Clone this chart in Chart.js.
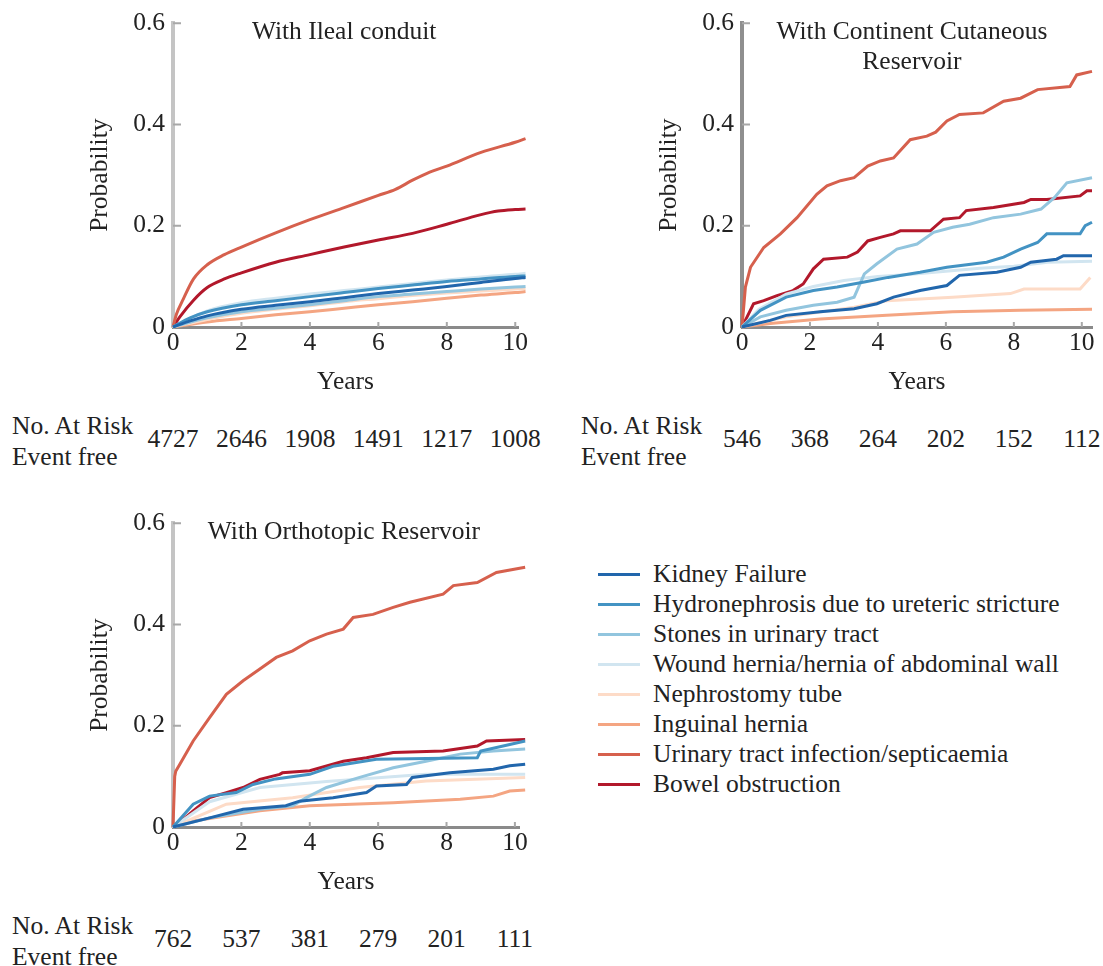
<!DOCTYPE html>
<html>
<head>
<meta charset="utf-8">
<script src="https://cdn.jsdelivr.net/npm/chart.js@4.4.0/dist/chart.umd.min.js"></script>
<style>
    body { margin: 0; background: #fff; width: 1103px; height: 966px; position: relative; overflow: hidden;
           font-family: 'Liberation Serif', 'Times New Roman', serif; color: #222; }
    .panel { position: absolute; }
    .txt { position: absolute; font-size: 25.5px; line-height: 30px; white-space: nowrap; }
    .num { transform: translateX(-50%); }
    .swatch { position: absolute; width: 42px; height: 3px; }
</style>
</head>
<body>
<div class="panel" style="left:0;top:0"><canvas id="ileal" width="545" height="400"></canvas></div>
<div class="panel" style="left:569px;top:0"><canvas id="cutaneous" width="534" height="400"></canvas></div>
<div class="panel" style="left:0;top:500px"><canvas id="orthotopic" width="545" height="400"></canvas></div>
<div id="extras"></div>

<script>
// outcomes, in legend order
const outcomes = [
    'Kidney Failure',
    'Hydronephrosis due to ureteric stricture',
    'Stones in urinary tract',
    'Wound hernia/hernia of abdominal wall',
    'Nephrostomy tube',
    'Inguinal hernia',
    'Urinary tract infection/septicaemia',
    'Bowel obstruction'
];
const colours = ['#2166ac', '#4393c3', '#92c5de', '#d1e5f0', '#fddbc7', '#f4a582', '#d6604d', '#b2182b'];

const xTicks = [0, 2, 4, 6, 8, 10];
const yTicks = [0, 0.2, 0.4, 0.6];

const ilealAtRisk = [4727, 2646, 1908, 1491, 1217, 1008];
const cutaneousAtRisk = [546, 368, 264, 202, 152, 112];
const orthotopicAtRisk = [762, 537, 381, 279, 201, 111];

// [years, probability]
// With Ileal conduit
const ilealKidney = [[0,0],[0.5,0.012],[1,0.022],[2,0.035],[3,0.043],[4,0.05],[5,0.058],[6,0.066],[7,0.073],[8,0.08],[9,0.088],[10,0.096],[10.3,0.098]];
const ilealHydro = [[0,0],[0.5,0.018],[1,0.03],[2,0.044],[3,0.052],[4,0.06],[5,0.068],[6,0.076],[7,0.083],[8,0.09],[9,0.095],[10,0.1],[10.3,0.101]];
const ilealStones = [[0,0],[1,0.018],[2,0.03],[3,0.037],[4,0.044],[5,0.052],[6,0.06],[7,0.065],[8,0.07],[9,0.075],[10,0.079],[10.3,0.08]];
const ilealWound = [[0,0],[1,0.032],[2,0.048],[3,0.057],[4,0.065],[5,0.072],[6,0.079],[7,0.086],[8,0.093],[9,0.099],[10,0.104],[10.3,0.106]];
const ilealNephro = [[0,0],[1,0.015],[2,0.027],[3,0.035],[4,0.042],[5,0.05],[6,0.056],[7,0.062],[8,0.067],[9,0.071],[10,0.075],[10.3,0.076]];
const ilealInguinal = [[0,0],[1,0.01],[2,0.017],[3,0.024],[4,0.03],[5,0.037],[6,0.044],[7,0.05],[8,0.057],[9,0.063],[10,0.068],[10.3,0.07]];
const ilealUti = [[0,0],[0.1,0.025],[0.3,0.055],[0.6,0.095],[1,0.123],[1.5,0.143],[2,0.158],[3,0.186],[4,0.212],[5,0.236],[6,0.26],[6.5,0.272],[7,0.29],[7.5,0.306],[8,0.318],[9,0.345],[10,0.365],[10.3,0.372]];
const ilealBowel = [[0,0],[0.2,0.02],[0.6,0.053],[1,0.078],[1.5,0.095],[2,0.107],[3,0.128],[4,0.143],[5,0.158],[6,0.172],[7,0.185],[8,0.203],[9,0.222],[9.5,0.229],[10,0.232],[10.3,0.233]];

// With Continent Cutaneous Reservoir
const cutKidney = [[0,0],[0.83,0.013],[1.3,0.023],[2.3,0.03],[3.3,0.036],[3.97,0.046],[4.46,0.059],[5.24,0.072],[6.03,0.082],[6.4,0.102],[7.5,0.108],[8.2,0.118],[8.5,0.128],[9.26,0.134],[9.46,0.141],[10.3,0.141]];
const cutHydro = [[0,0],[0.54,0.033],[1.3,0.059],[2.1,0.072],[2.8,0.079],[3.6,0.089],[4.3,0.098],[5.24,0.108],[6.03,0.118],[7.2,0.128],[7.7,0.138],[8.2,0.154],[8.7,0.167],[8.97,0.184],[9.95,0.184],[10.1,0.2],[10.3,0.207]];
const cutStones = [[0,0],[0.54,0.02],[1.3,0.033],[2.1,0.043],[2.8,0.049],[3.3,0.059],[3.6,0.105],[3.97,0.125],[4.56,0.154],[5.15,0.164],[5.64,0.187],[6.2,0.197],[6.7,0.203],[7.4,0.216],[8.2,0.223],[8.8,0.233],[9.2,0.256],[9.56,0.285],[10.3,0.295]];
const cutWound = [[0,0],[0.5,0.035],[1.3,0.065],[2.1,0.08],[3,0.092],[4,0.1],[5,0.104],[6,0.11],[7,0.116],[8,0.12],[9,0.128],[10.3,0.13]];
const cutNephro = [[0,0],[1.3,0.02],[3.3,0.039],[4.26,0.052],[6.2,0.059],[7.9,0.066],[8.3,0.075],[9.95,0.075],[10.25,0.098]];
const cutInguinal = [[0,0],[0.83,0.007],[2.3,0.016],[4.26,0.023],[6.2,0.03],[8.2,0.033],[10.3,0.035]];
const cutUti = [[0,0],[0.1,0.079],[0.25,0.118],[0.64,0.157],[1.13,0.184],[1.62,0.216],[2.2,0.262],[2.5,0.279],[2.9,0.289],[3.3,0.295],[3.7,0.318],[4.07,0.328],[4.46,0.334],[4.95,0.37],[5.44,0.377],[5.7,0.385],[6.03,0.407],[6.4,0.42],[7.1,0.423],[7.7,0.446],[8.2,0.452],[8.7,0.469],[9.65,0.475],[9.85,0.498],[10.3,0.505]];
const cutBowel = [[0,0],[0.15,0.02],[0.34,0.046],[0.64,0.052],[1.03,0.062],[1.5,0.072],[1.8,0.085],[2.1,0.115],[2.4,0.134],[3.1,0.138],[3.4,0.148],[3.7,0.17],[4.07,0.177],[4.46,0.184],[4.66,0.19],[5.54,0.19],[5.93,0.213],[6.4,0.216],[6.6,0.23],[7.4,0.236],[8.3,0.246],[8.5,0.252],[8.97,0.252],[9.95,0.259],[10.15,0.269],[10.3,0.269]];

// With Orthotopic Reservoir
const orthoKidney = [[0,0],[1.07,0.018],[2.05,0.035],[3.3,0.042],[3.7,0.051],[4.68,0.058],[5.66,0.068],[5.95,0.081],[6.83,0.084],[7,0.098],[8.1,0.107],[9.37,0.114],[9.85,0.121],[10.3,0.124]];
const orthoHydro = [[0,0],[0.59,0.045],[1.07,0.061],[1.85,0.068],[2.34,0.084],[3,0.095],[4,0.104],[4.68,0.12],[5.95,0.134],[8.9,0.137],[9,0.15],[9.85,0.163],[10.3,0.17]];
const orthoStones = [[0,0],[1.07,0.018],[2.54,0.035],[3.5,0.042],[3.9,0.058],[4.49,0.078],[5.46,0.098],[6.44,0.117],[7.4,0.13],[8.4,0.144],[9.37,0.15],[10.3,0.154]];
const orthoWound = [[0,0],[1.07,0.05],[2.54,0.078],[4.49,0.09],[7.4,0.104],[10.3,0.104]];
const orthoNephro = [[0,0],[1.56,0.045],[3.5,0.058],[5.46,0.078],[7.4,0.091],[10.3,0.098]];
const orthoInguinal = [[0,0],[0.59,0.012],[2.54,0.032],[4,0.042],[6.44,0.048],[8.4,0.055],[9.37,0.061],[9.85,0.071],[10.3,0.073]];
const orthoUti = [[0,0],[0.05,0.1],[0.08,0.11],[0.2,0.124],[0.59,0.17],[1.07,0.216],[1.56,0.262],[2.05,0.289],[2.54,0.312],[3.02,0.335],[3.5,0.348],[4,0.368],[4.49,0.381],[4.98,0.391],[5.27,0.414],[5.85,0.42],[6.44,0.434],[6.93,0.444],[7.9,0.46],[8.2,0.477],[8.9,0.483],[9.46,0.503],[10.3,0.513]];
const orthoBowel = [[0,0],[0.3,0.015],[0.59,0.032],[1.07,0.058],[1.56,0.068],[2.05,0.078],[2.54,0.094],[3.12,0.104],[3.2,0.107],[4,0.111],[4.98,0.13],[5.66,0.137],[6.44,0.147],[7.9,0.15],[8.9,0.16],[9.17,0.17],[10.3,0.173]];

const font = { family: "'Liberation Serif', 'Times New Roman', serif", size: 25.5 };
const textColour = '#222';

// title written inside the plot area, centred over 0..10 years
const panelTitle = {
    id: 'panelTitle',
    afterDraw(chart, args, opts) {
        const { ctx, chartArea } = chart;
        const cx = chart.scales.x.getPixelForValue(5);
        ctx.save();
        ctx.font = `${font.size}px ${font.family}`;
        ctx.fillStyle = textColour;
        ctx.textAlign = 'center';
        ctx.textBaseline = 'middle';
        opts.lines.forEach((t, i) => ctx.fillText(t, cx, chartArea.top + 9 + i * 30));
        ctx.restore();
    }
};

// small tick marks pointing into the plot
const innerTicks = {
    id: 'innerTicks',
    afterDraw(chart) {
        const { ctx, chartArea, scales } = chart;
        ctx.save();
        ctx.strokeStyle = '#a8a8a8';
        ctx.lineWidth = 2;
        ctx.beginPath();
        yTicks.slice(1).forEach(v => {
            const y = scales.y.getPixelForValue(v);
            ctx.moveTo(chartArea.left, y);
            ctx.lineTo(chartArea.left + 8, y);
        });
        xTicks.slice(1).forEach(v => {
            const x = scales.x.getPixelForValue(v);
            ctx.moveTo(x, chartArea.bottom);
            ctx.lineTo(x, chartArea.bottom - 5);
        });
        ctx.stroke();
        ctx.restore();
    }
};

// xMax: where the drawn axis stops; the curves run on a little past it
function makePanel(canvasId, titleLines, series, smooth, yAxisColour, xMax, rightPad) {
    const ctx = document.getElementById(canvasId).getContext('2d');
    return new Chart(ctx, {
        type: 'line',
        data: {
            datasets: series.map((pts, i) => ({
                label: outcomes[i],
                data: pts.map(([x, y]) => ({ x, y })),
                borderColor: colours[i],
                backgroundColor: colours[i],
                borderWidth: 3,
                pointRadius: 0,
                fill: false,
                clip: false,
                cubicInterpolationMode: smooth ? 'monotone' : 'default',
                tension: 0
            }))
        },
        options: {
            responsive: false,
            animation: false,
            events: [],
            layout: { padding: { left: 80, top: 22, right: rightPad, bottom: 0 } },
            plugins: {
                legend: { display: false },
                tooltip: { enabled: false },
                panelTitle: { lines: titleLines }
            },
            scales: {
                x: {
                    type: 'linear',
                    min: 0,
                    max: xMax,
                    afterBuildTicks: s => { s.ticks = xTicks.map(v => ({ value: v })); },
                    afterFit: s => { s.height = 73; },
                    ticks: { font, color: textColour, padding: 1, maxRotation: 0, autoSkip: false },
                    grid: { display: false, drawTicks: false },
                    border: { display: true, color: '#8a8a8a', width: 3 },
                    title: { display: true, text: 'Years', font, color: textColour, padding: { top: 4, bottom: 2 } }
                },
                y: {
                    type: 'linear',
                    min: 0,
                    max: 0.6,
                    afterBuildTicks: s => { s.ticks = yTicks.map(v => ({ value: v })); },
                    afterFit: s => { s.width = 93; },
                    ticks: {
                        font, color: textColour, padding: 8,
                        callback: v => v === 0 ? '0' : v.toFixed(1)
                    },
                    grid: { display: false, drawTicks: false },
                    border: { display: true, color: yAxisColour, width: 4 },
                    title: { display: true, text: 'Probability', font, color: textColour, padding: { top: 5, bottom: 0 } }
                }
            }
        },
        plugins: [panelTitle, innerTicks]
    });
}

const ilealChart = makePanel('ileal', ['With Ileal conduit'],
    [ilealKidney, ilealHydro, ilealStones, ilealWound, ilealNephro, ilealInguinal, ilealUti, ilealBowel],
    true, '#c4c4c4', 10.08, 27);
const cutChart = makePanel('cutaneous', ['With Continent Cutaneous', 'Reservoir'],
    [cutKidney, cutHydro, cutStones, cutWound, cutNephro, cutInguinal, cutUti, cutBowel],
    false, '#8f8f8f', 10.3, 11);
const orthoChart = makePanel('orthotopic', ['With Orthotopic Reservoir'],
    [orthoKidney, orthoHydro, orthoStones, orthoWound, orthoNephro, orthoInguinal, orthoUti, orthoBowel],
    false, '#c4c4c4', 10.12, 26);

// number-at-risk rows under each panel
const extras = document.getElementById('extras');
function addText(text, left, centreY, cls) {
    const d = document.createElement('div');
    d.className = 'txt' + (cls ? ' ' + cls : '');
    d.textContent = text;
    d.style.left = left + 'px';
    d.style.top = (centreY - 15) + 'px';
    extras.appendChild(d);
}
function atRisk(chart, counts, offsetX, offsetY, labelX) {
    addText('No. At Risk', labelX, offsetY + 426);
    addText('Event free', labelX, offsetY + 457);
    counts.forEach((n, i) => {
        addText(String(n), offsetX + chart.scales.x.getPixelForValue(xTicks[i]), offsetY + 439, 'num');
    });
}
atRisk(ilealChart, ilealAtRisk, 0, 0, 12);
atRisk(cutChart, cutaneousAtRisk, 569, 0, 581);
atRisk(orthoChart, orthotopicAtRisk, 0, 500, 12);

// legend
outcomes.forEach((name, i) => {
    const cy = 574 + i * 30;
    const sw = document.createElement('div');
    sw.className = 'swatch';
    sw.style.left = '598px';
    sw.style.top = (cy - 1) + 'px';
    sw.style.background = colours[i];
    extras.appendChild(sw);
    addText(name, 653, cy);
});
</script>
</body>
</html>
